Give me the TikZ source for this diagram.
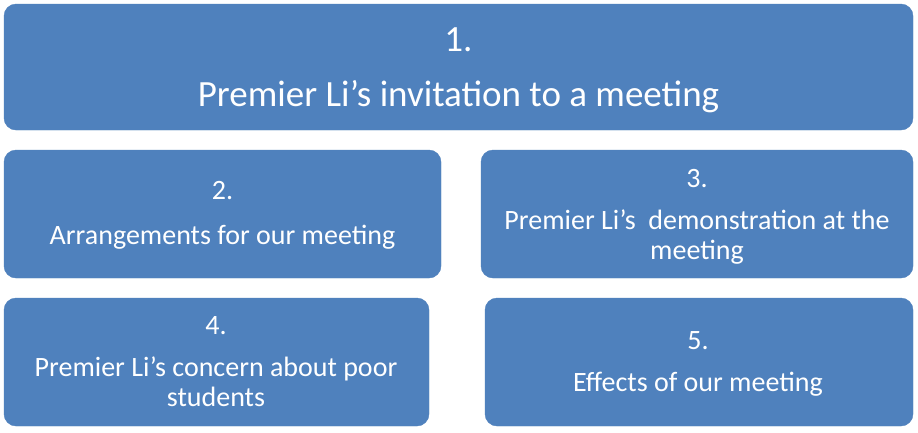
\documentclass[tikz,border=0pt]{standalone}
\usepackage{fontspec}
\setmainfont{Carlito}
\definecolor{boxblue}{RGB}{79,129,189}
\begin{document}
\begin{tikzpicture}[x=1pt,y=-1pt,
  card/.style={fill=boxblue, draw=boxblue, rounded corners=12pt},
  lbl/.style={text=white, align=center, inner sep=0pt},
  small/.style={lbl, font=\fontsize{28}{30}\selectfont},
  big/.style={lbl, font=\fontsize{37}{40}\selectfont}]
\useasboundingbox (0,0) rectangle (918,432);
\fill[white] (0,0) rectangle (918,432);
\draw[card] (4,4) rectangle (913,130);
\node[big] (t1) at (458.5,70) {1.\\[15pt]Premier Li’s invitation to a meeting};
\draw[card] (4,150) rectangle (441,278);
\node[small] (t2) at (222.5,215.5) {2.\\[15pt]Arrangements for our meeting};
\draw[card] (481,150) rectangle (913,278);
\node[small] (t3) at (697,216.5) {3.\\[12pt]Premier Li’s\ \ demonstration at the\\meeting};
\draw[card] (4,298) rectangle (429,426);
\node[small] (t4) at (216,362) {4.\\[12pt]Premier Li’s concern about poor\\students};
\draw[card] (485,298) rectangle (913,426);
\node[small] (t5) at (698,363.5) {5.\\[12pt]Effects of our meeting};
\end{tikzpicture}
\end{document}
